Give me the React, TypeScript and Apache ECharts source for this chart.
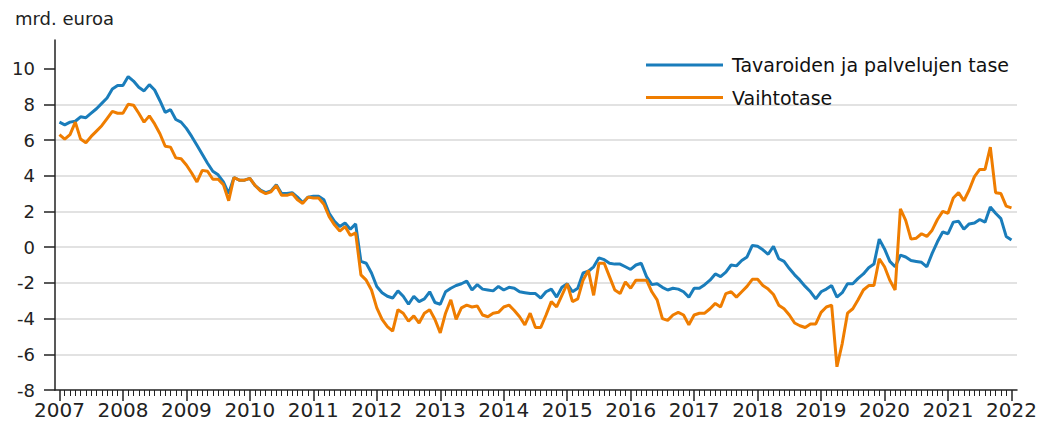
import { useEffect, useRef } from "react";
import * as echarts from "echarts";

const START_YEAR = 2007;
const yearTicks = [2007, 2008, 2009, 2010, 2011, 2012, 2013, 2014, 2015, 2016, 2017, 2018, 2019, 2020, 2021, 2022];
const yTicks = [-8, -6, -4, -2, 0, 2, 4, 6, 8, 10];
const seriesNames = ["Tavaroiden ja palvelujen tase", "Vaihtotase"];
const unitLabel = "mrd. euroa";

// Tavaroiden ja palvelujen tase, monthly 2007M01–2022M01
const goodsServices = [
  7.0, 6.85, 7.0, 7.05, 7.3, 7.25, 7.5, 7.75, 8.05, 8.35, 8.85, 9.05,
  9.05, 9.55, 9.3, 8.95, 8.75, 9.1, 8.8, 8.2, 7.55, 7.7, 7.15, 7.0,
  6.65, 6.2, 5.7, 5.2, 4.7, 4.25, 4.05, 3.65, 3.0, 3.9, 3.75, 3.75,
  3.85, 3.45, 3.2, 3.05, 3.15, 3.5, 3.0, 3.0, 3.05, 2.8, 2.5, 2.8,
  2.85, 2.85, 2.65, 1.9, 1.45, 1.15, 1.35, 1.0, 1.3, -0.8, -0.9, -1.45,
  -2.2, -2.55, -2.75, -2.85, -2.45, -2.75, -3.2, -2.75, -3.05, -2.9, -2.5, -3.1,
  -3.2, -2.5, -2.3, -2.15, -2.05, -1.9, -2.4, -2.1, -2.35, -2.4, -2.45, -2.2,
  -2.4, -2.25, -2.3, -2.5, -2.55, -2.6, -2.6, -2.85, -2.5, -2.35, -2.8, -2.25,
  -2.05, -2.5, -2.3, -1.45, -1.35, -1.1, -0.6, -0.7, -0.9, -0.95, -0.95, -1.1,
  -1.25, -1.0, -0.9, -1.65, -2.1, -2.05, -2.25, -2.4, -2.3, -2.35, -2.5, -2.8,
  -2.3, -2.3, -2.1, -1.85, -1.5, -1.65, -1.4, -1.0, -1.05, -0.75, -0.55, 0.1,
  0.05, -0.15, -0.4, 0.05, -0.65, -0.8, -1.2, -1.55, -1.85, -2.2, -2.5, -2.9,
  -2.5, -2.35, -2.15, -2.8, -2.55, -2.05, -2.05, -1.75, -1.5, -1.15, -0.95, 0.45,
  -0.1, -0.8, -1.1, -0.45, -0.55, -0.75, -0.8, -0.85, -1.1, -0.35, 0.3, 0.85,
  0.75, 1.4, 1.45, 1.0, 1.3, 1.35, 1.55, 1.4, 2.25, 1.9, 1.6, 0.6,
  0.4,
];

// Vaihtotase, monthly 2007M01–2022M01
const currentAccount = [
  6.3, 6.05, 6.3, 7.0, 6.05, 5.85, 6.2, 6.5, 6.8, 7.2, 7.6, 7.5,
  7.5, 8.0, 7.95, 7.5, 7.0, 7.35, 6.9, 6.35, 5.65, 5.6, 5.0, 4.95,
  4.6, 4.15, 3.65, 4.3, 4.25, 3.8, 3.8, 3.5, 2.6, 3.9, 3.75, 3.75,
  3.85, 3.45, 3.15, 3.0, 3.1, 3.45, 2.9, 2.9, 3.0, 2.65, 2.45, 2.8,
  2.75, 2.75, 2.4, 1.7, 1.25, 0.9, 1.15, 0.65, 0.8, -1.55, -1.85, -2.4,
  -3.4, -4.05, -4.45, -4.7, -3.5, -3.7, -4.15, -3.85, -4.25, -3.7, -3.5, -4.05,
  -4.8, -3.7, -2.95, -4.05, -3.4, -3.25, -3.35, -3.3, -3.8, -3.9, -3.7, -3.65,
  -3.35, -3.25, -3.55, -3.9, -4.35, -3.7, -4.5, -4.5, -3.8, -3.05, -3.35, -2.7,
  -2.05, -3.05, -2.9, -1.85, -1.3, -2.7, -0.9, -0.9, -1.65, -2.4, -2.6, -1.95,
  -2.3, -1.85, -1.85, -1.85, -2.5, -2.95, -4.0, -4.1, -3.8, -3.65, -3.8, -4.35,
  -3.8, -3.7, -3.7, -3.45, -3.15, -3.35, -2.6, -2.5, -2.8, -2.5, -2.2, -1.8,
  -1.8, -2.15, -2.35, -2.65, -3.25, -3.45, -3.8, -4.25, -4.4, -4.5, -4.3, -4.3,
  -3.65, -3.35, -3.25, -6.7, -5.4, -3.7, -3.45, -2.95, -2.4, -2.15, -2.15, -0.65,
  -1.1, -1.85, -2.4, 2.15, 1.5, 0.45, 0.5, 0.75, 0.6, 0.95, 1.55, 2.0,
  1.9, 2.75, 3.05, 2.6, 3.2, 3.95, 4.35, 4.35, 5.6, 3.05, 3.0, 2.3,
  2.2,
];

const months = goodsServices.map(
  (_, i) => `${START_YEAR + Math.floor(i / 12)}M${String((i % 12) + 1).padStart(2, "0")}`
);
const monthPos = (label: string) => {
  const [y, m] = label.split("M").map(Number);
  return y + (m - 1) / 12;
};

export default function App() {
  const ref = useRef<HTMLDivElement>(null);
  useEffect(() => {
    if (!ref.current) return;
    const chart = echarts.init(ref.current, null, { renderer: "svg" });
    const font = "DejaVu Sans";
    const xMin = 2006.93;
    const xMax = 2022.087;
    const minorTicks = months.map(monthPos).filter((p) => Math.abs(p - Math.round(p)) > 1e-6);
    const axisColor = "#222";
    chart.setOption({
      animation: false,
      textStyle: { fontFamily: font },
      title: {
        text: unitLabel,
        left: 10,
        top: 3,
        textStyle: { fontSize: 18, fontWeight: "normal", color: "#222", fontFamily: font, lineHeight: 20 },
      },
      legend: {
        orient: "vertical",
        left: 641,
        top: 50,
        itemWidth: 77,
        itemHeight: 3,
        itemGap: 12.5,
        icon: "rect",
        data: seriesNames,
        textStyle: { fontSize: 19, color: "#111", fontFamily: font, lineHeight: 20, padding: [0, 0, 0, 4] },
      },
      grid: { left: 55, right: 23, top: 40, bottom: 42, containLabel: false, outerBoundsMode: "none" },
      xAxis: [
        {
          type: "value",
          position: "bottom",
          min: xMin,
          max: xMax,
          axisLine: { show: true, onZero: false, lineStyle: { color: axisColor, width: 1.5 } },
          axisTick: { show: true, customValues: yearTicks, length: 11, lineStyle: { color: axisColor, width: 1.5 } },
          axisLabel: {
            customValues: yearTicks,
            fontSize: 20,
            margin: 10,
            color: "#222",
            fontFamily: font,
            formatter: (v: number) => String(Math.round(v)),
          },
          splitLine: { show: false },
        },
        {
          type: "value",
          position: "bottom",
          min: xMin,
          max: xMax,
          axisLine: { show: false, onZero: false },
          axisTick: { show: true, customValues: minorTicks, length: 6, lineStyle: { color: axisColor, width: 1 } },
          axisLabel: { show: false },
          splitLine: { show: false },
        },
      ],
      yAxis: {
        type: "value",
        min: -8,
        max: 11.6,
        interval: 2,
        axisLine: { show: true, onZero: false, lineStyle: { color: axisColor, width: 1.5 } },
        axisTick: { show: true, customValues: yTicks, length: 11, lineStyle: { color: axisColor, width: 1.5 } },
        axisLabel: { customValues: yTicks, fontSize: 18, margin: 20, color: "#222", fontFamily: font },
        splitLine: { show: true, showMinLine: false, showMaxLine: false, lineStyle: { color: "#d9d9d9", width: 1.5 } },
      },
      series: [
        {
          name: seriesNames[0],
          type: "line",
          xAxisIndex: 0,
          showSymbol: false,
          symbol: "none",
          color: "#1a7dbb",
          lineStyle: { width: 3, color: "#1a7dbb" },
          data: goodsServices.map((v, i) => [monthPos(months[i]), v]),
        },
        {
          name: seriesNames[1],
          type: "line",
          xAxisIndex: 0,
          showSymbol: false,
          symbol: "none",
          color: "#ef7d00",
          lineStyle: { width: 3, color: "#ef7d00" },
          data: currentAccount.map((v, i) => [monthPos(months[i]), v]),
        },
      ],
    });
    return () => chart.dispose();
  }, []);
  return <div ref={ref} style={{ position: "absolute", left: 0, top: 0, width: 1040, height: 432 }} />;
}
